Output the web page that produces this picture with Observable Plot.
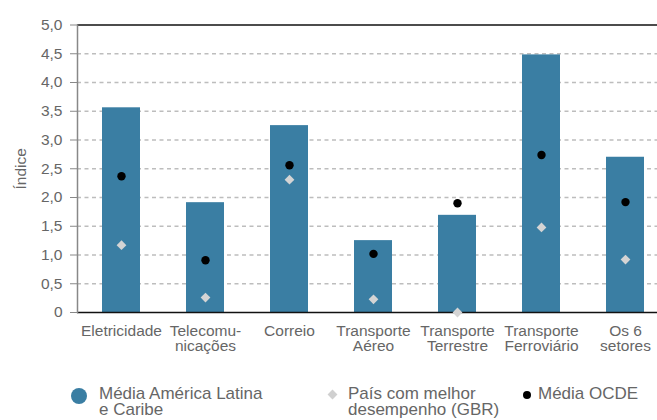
<!DOCTYPE html>
<html>
<head>
<meta charset="utf-8">
<script src="https://cdn.jsdelivr.net/npm/d3@7"></script>
<script src="https://cdn.jsdelivr.net/npm/@observablehq/plot@0.6"></script>
<style>
  html, body { margin: 0; padding: 0; background: #fff; }
  body { width: 657px; height: 420px; overflow: hidden; font-family: "Liberation Sans", Arial, sans-serif; }
  #chart svg { display: block; }
  #legend { position: relative; width: 657px; height: 55px; color: #666; font-size: 17px; line-height: 16px; }
  .item { position: absolute; top: 21px; white-space: nowrap; }
  .sw { position: absolute; }
</style>
</head>
<body>
<div id="chart"></div>
<div id="legend"></div>
<script>
const categories = ["Eletricidade", "Telecomu-\nnicações", "Correio", "Transporte\nAéreo", "Transporte\nTerrestre", "Transporte\nFerroviário", "Os 6\nsetores"];
const latamValues = [3.56, 1.91, 3.25, 1.25, 1.69, 4.48, 2.70];
const bestValues  = [1.17, 0.26, 2.31, 0.23, 0.00, 1.48, 0.92];
const oecdValues  = [2.37, 0.91, 2.56, 1.02, 1.90, 2.74, 1.92];
const yTicks = [0, 0.5, 1, 1.5, 2, 2.5, 3, 3.5, 4, 4.5, 5];
const seriesNames = ["Média América Latina\ne Caribe", "País com melhor\ndesempenho (GBR)", "Média OCDE"];

const data = categories.map((c, i) => ({cat: c, latam: latamValues[i], best: bestValues[i], oecd: oecdValues[i]}));
const barColor = "#3a7ea3";
const font = "Liberation Sans, Arial, sans-serif";

const chart = Plot.plot({
  width: 657,
  height: 365,
  marginLeft: 77,
  marginRight: 0,
  marginTop: 24.5,
  marginBottom: 53,
  style: {fontFamily: font, fontSize: "15px", color: "#666", background: "#fff"},
  x: {domain: categories, range: [77.5, 668], paddingInner: 0.55, paddingOuter: 0.275},
  y: {domain: [0, 5]},
  marks: [
    Plot.ruleY(yTicks.filter(d => d > 0 && d < 5), {stroke: "#bdbdbd", strokeWidth: 1.3, strokeDasharray: "4,3.5"}),
    Plot.barY(data, {x: "cat", y: "latam", fill: barColor}),
    Plot.ruleY([5], {stroke: "#111", strokeWidth: 1.5}),
    Plot.ruleY([0], {stroke: "#111", strokeWidth: 1.5}),
    Plot.axisY({ticks: yTicks, tickFormat: d => d === 0 ? "0" : d.toFixed(1).replace(".", ","), tickSize: 7, tickPadding: 8, stroke: "#888", fill: "#666", fontSize: 15.5, label: "Índice", labelAnchor: "center", labelOffset: 63, labelArrow: "none"}),
    Plot.frame({anchor: "left", stroke: "#888", strokeWidth: 1.5}),
    Plot.axisX({tickSize: 0, tickPadding: 13, fill: "#666", fontSize: 15.5, label: null, lineHeight: 0.98}),
    Plot.dot(data, {x: "cat", y: "best", symbol: "diamond2", r: 4.4, fill: "#d4d4d4", stroke: "none"}),
    Plot.dot(data, {x: "cat", y: "oecd", r: 4.2, fill: "#000"})
  ]
});
document.getElementById("chart").appendChild(chart);

// legend
const legend = document.getElementById("legend");
const swatches = [
  {left: 71, top: 23, html: `<div style="width:16px;height:16px;border-radius:50%;background:${barColor}"></div>`, textLeft: 99},
  {left: 329, top: 26, html: `<div style="width:7px;height:7px;background:#d0d0d0;transform:rotate(45deg)"></div>`, textLeft: 348},
  {left: 523, top: 26, html: `<div style="width:8px;height:8px;border-radius:50%;background:#000"></div>`, textLeft: 538}
];
seriesNames.forEach((name, i) => {
  const s = swatches[i];
  const sw = document.createElement("div");
  sw.className = "sw";
  sw.style.left = s.left + "px";
  sw.style.top = s.top + "px";
  sw.innerHTML = s.html;
  legend.appendChild(sw);
  const t = document.createElement("div");
  t.className = "item";
  t.style.left = s.textLeft + "px";
  t.innerHTML = name.replace("\n", "<br>");
  legend.appendChild(t);
});
</script>
</body>
</html>
